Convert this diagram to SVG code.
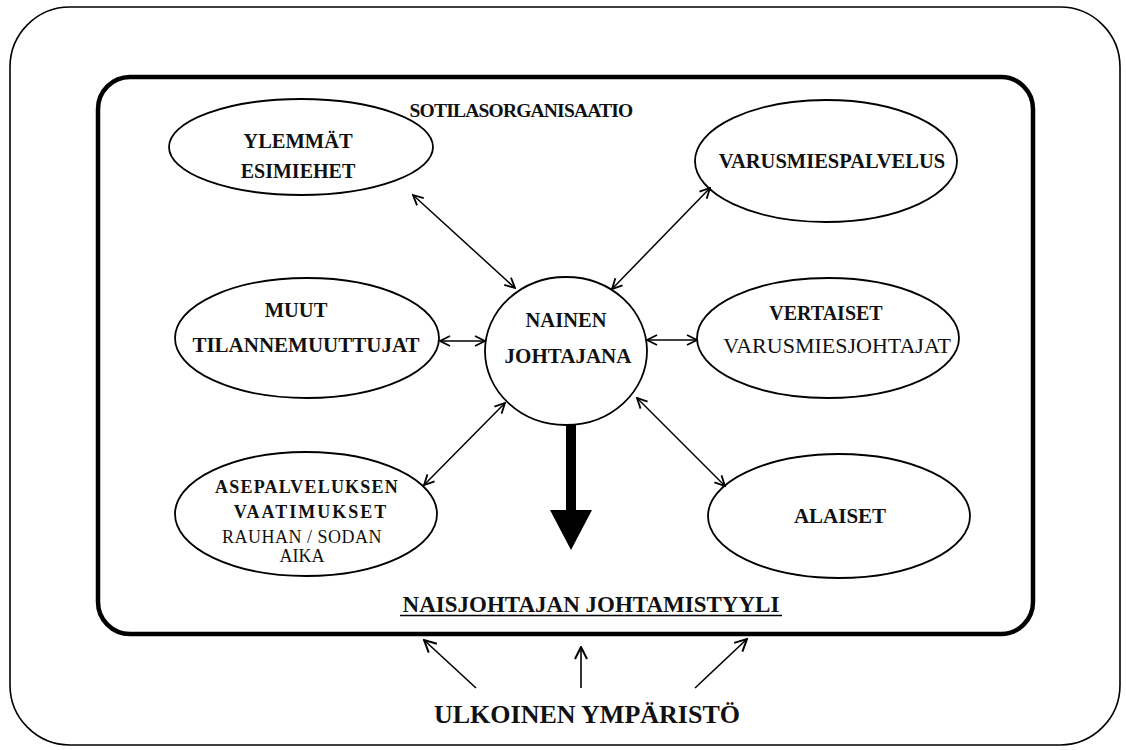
<svg xmlns="http://www.w3.org/2000/svg" width="1126" height="750" viewBox="0 0 1126 750">
<defs>
<marker id="ah" viewBox="0 0 12 12" refX="11" refY="6" markerWidth="12" markerHeight="12" markerUnits="userSpaceOnUse" orient="auto-start-reverse">
<path d="M1,1 L11,6 L1,11" fill="none" stroke="#000" stroke-width="1.8"/>
</marker>
<marker id="ah2" viewBox="0 0 14 14" refX="13" refY="7" markerWidth="14" markerHeight="14" markerUnits="userSpaceOnUse" orient="auto">
<path d="M1,1 L13,7 L1,13" fill="none" stroke="#000" stroke-width="2"/>
</marker>
</defs>
<style>
.node{fill:#fff;stroke:#000;stroke-width:1.8}
.b{font-family:"Liberation Serif","Times New Roman",serif;font-weight:bold;fill:#111;text-anchor:middle}
.r{font-family:"Liberation Serif","Times New Roman",serif;fill:#111;text-anchor:middle}
.c{stroke:#000;stroke-width:1.5;fill:none;marker-start:url(#ah);marker-end:url(#ah)}
.u{stroke:#000;stroke-width:1.6;fill:none;marker-end:url(#ah2)}
</style>
<rect width="1126" height="750" fill="#fff"/>
<g id="outer">
<rect x="10" y="7" width="1110" height="738" rx="60" ry="60" fill="none" stroke="#000" stroke-width="1.6"/>
</g>
<g id="organisation">
<rect x="98" y="77" width="935" height="557" rx="32" ry="32" fill="none" stroke="#000" stroke-width="4.5"/>
<text class="b" x="521" y="117" font-size="19.5" letter-spacing="-0.8">SOTILASORGANISAATIO</text>
</g>
<g id="ylemmat">
<ellipse class="node" cx="301" cy="147" rx="132" ry="48"/>
<text class="b" x="298" y="148" font-size="20.5">YLEMMÄT</text>
<text class="b" x="298" y="178" font-size="20">ESIMIEHET</text>
</g>
<g id="varusmiespalvelus">
<ellipse class="node" cx="826" cy="161" rx="131" ry="61"/>
<text class="b" x="832" y="168" font-size="20.5">VARUSMIESPALVELUS</text>
</g>
<g id="muut">
<ellipse class="node" cx="307" cy="338" rx="132" ry="60"/>
<text class="b" x="296" y="317" font-size="20.5">MUUT</text>
<text class="b" x="306" y="352" font-size="21">TILANNEMUUTTUJAT</text>
</g>
<g id="nainen">
<ellipse class="node" cx="566" cy="351" rx="81" ry="74"/>
<text class="b" x="566" y="327" font-size="20.5">NAINEN</text>
<text class="b" x="568" y="363" font-size="21">JOHTAJANA</text>
</g>
<g id="vertaiset">
<ellipse class="node" cx="828" cy="338" rx="131" ry="60"/>
<text class="b" x="826" y="320" font-size="20">VERTAISET</text>
<text class="r" x="837" y="353" font-size="22">VARUSMIESJOHTAJAT</text>
</g>
<g id="asepalveluksen">
<ellipse class="node" cx="306" cy="514" rx="131" ry="62"/>
<text class="b" x="307" y="493" font-size="18" letter-spacing="1.2">ASEPALVELUKSEN</text>
<text class="b" x="311" y="518" font-size="18" letter-spacing="2">VAATIMUKSET</text>
<text class="r" x="302" y="543" font-size="18" letter-spacing="0.5">RAUHAN / SODAN</text>
<text class="r" x="302" y="562" font-size="18">AIKA</text>
</g>
<g id="alaiset">
<ellipse class="node" cx="839" cy="516" rx="131" ry="62"/>
<text class="b" x="840" y="523" font-size="21">ALAISET</text>
</g>
<g id="johtamistyyli">
<text class="b" x="591" y="612" font-size="23">NAISJOHTAJAN JOHTAMISTYYLI</text>
<line x1="400" y1="615.5" x2="782" y2="615.5" stroke="#000" stroke-width="1.3"/>
</g>
<g id="ymparisto">
<text class="b" x="587" y="723" font-size="26">ULKOINEN YMPÄRISTÖ</text>
</g>
<g id="connectors">
<line class="c" x1="413" y1="195" x2="515" y2="288"/>
<line class="c" x1="710" y1="188" x2="612" y2="289"/>
<line class="c" x1="440" y1="341" x2="485" y2="341"/>
<line class="c" x1="647" y1="340" x2="697" y2="340"/>
<line class="c" x1="424" y1="485" x2="505" y2="403"/>
<line class="c" x1="637" y1="398" x2="725" y2="486"/>
<path d="M566,425 L576,425 L576,510 L592,510 L571,550 L550,510 L566,510 Z" fill="#000"/>
<line class="u" x1="476" y1="688" x2="424" y2="640"/>
<line class="u" x1="581" y1="688" x2="581" y2="647"/>
<line class="u" x1="695" y1="688" x2="747" y2="639"/>
</g>
</svg>
